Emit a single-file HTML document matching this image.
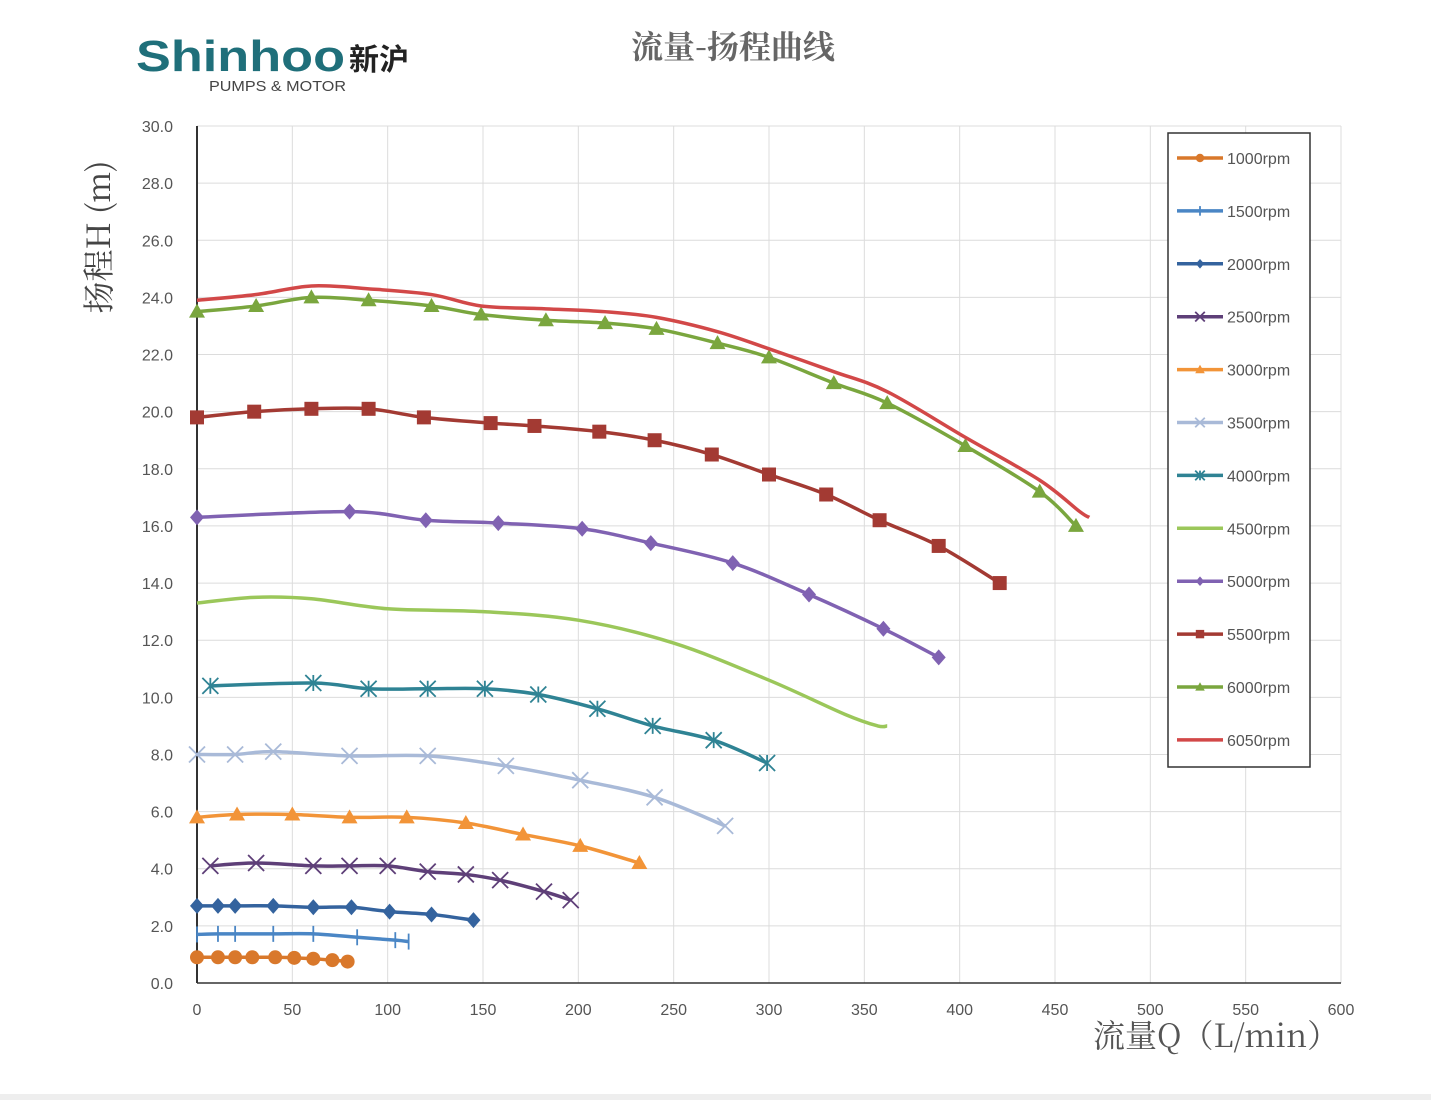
<!DOCTYPE html>
<html><head><meta charset="utf-8"><style>
html,body{margin:0;padding:0;background:#fff;}
svg{display:block;font-family:"Liberation Sans","Noto Sans CJK SC",sans-serif;}
</style></head><body>
<svg id="chart" width="1431" height="1100" viewBox="0 0 1431 1100">
<rect x="0" y="0" width="1431" height="1100" fill="#fff"/>
<rect x="0" y="1094" width="1431" height="6" fill="#eee"/>
<g>
<text x="136" y="71" font-size="44" font-weight="bold" fill="#1f6f7a" textLength="209" lengthAdjust="spacingAndGlyphs" style="font-family:'Liberation Sans',sans-serif">Shinhoo</text>
<text x="349" y="70" font-size="30" font-weight="bold" fill="#222" style="font-family:'Noto Sans CJK SC',sans-serif">新沪</text>
<text x="209" y="91" font-size="15" fill="#444" textLength="137" lengthAdjust="spacingAndGlyphs">PUMPS &amp; MOTOR</text>
</g>
<text x="733" y="58" font-size="32" font-weight="bold" fill="#666" text-anchor="middle" style="font-family:'Noto Serif CJK SC',serif">流量-扬程曲线</text>
<text transform="translate(110,237) rotate(-90)" font-size="32" fill="#444" text-anchor="middle" style="font-family:'Noto Serif CJK SC',serif">扬程H (m)</text>
<text x="1093" y="1047" font-size="32" fill="#555" style="font-family:'Noto Serif CJK SC',serif">流量Q（L/min）</text>
<g id="grid"></g><g id="axes"></g><g id="series"></g><g id="legend"></g>
</svg>
<script>
const NS="http://www.w3.org/2000/svg";
const xTicks=[0,50,100,150,200,250,300,350,400,450,500,550,600];
const yTicks=[0,2,4,6,8,10,12,14,16,18,20,22,24,26,28,30];
const seriesNames=["1000rpm","1500rpm","2000rpm","2500rpm","3000rpm","3500rpm","4000rpm","4500rpm","5000rpm","5500rpm","6000rpm","6050rpm"];
const q1000=[0,11,20,29,41,51,61,71,79];
const h1000=[0.9,0.9,0.9,0.9,0.9,0.88,0.85,0.8,0.75];
const q1500=[0,11,20,40,61,84,104,111];
const h1500=[1.7,1.72,1.72,1.72,1.72,1.6,1.5,1.45];
const q2000=[0,11,20,40,61,81,101,123,145];
const h2000=[2.7,2.7,2.7,2.7,2.65,2.65,2.5,2.4,2.2];
const q2500=[7,31,61,80,100,121,141,159,182,196];
const h2500=[4.1,4.2,4.1,4.1,4.1,3.9,3.8,3.6,3.2,2.9];
const q3000=[0,21,50,80,110,141,171,201,232];
const h3000=[5.8,5.9,5.9,5.8,5.8,5.6,5.2,4.8,4.2];
const q3500=[0,20,40,80,121,162,201,240,277];
const h3500=[8.0,8.0,8.1,7.95,7.95,7.6,7.1,6.5,5.5];
const q4000=[7,61,90,121,151,179,210,239,271,299];
const h4000=[10.4,10.5,10.3,10.3,10.3,10.1,9.6,9.0,8.5,7.7];
const q4500=[0,30,60,100,150,200,250,300,340,357,362];
const h4500=[13.3,13.5,13.45,13.1,13.0,12.7,11.9,10.6,9.4,9.0,9.0];
const q5000=[0,80,120,158,202,238,281,321,360,389];
const h5000=[16.3,16.5,16.2,16.1,15.9,15.4,14.7,13.6,12.4,11.4];
const q5500=[0,30,60,90,119,154,177,211,240,270,300,330,358,389,421];
const h5500=[19.8,20.0,20.1,20.1,19.8,19.6,19.5,19.3,19.0,18.5,17.8,17.1,16.2,15.3,14.0];
const q6000=[0,31,60,90,123,149,183,214,241,273,300,334,362,403,442,461];
const h6000=[23.5,23.7,24.0,23.9,23.7,23.4,23.2,23.1,22.9,22.4,21.9,21.0,20.3,18.8,17.2,16.0];
const q6050=[0,31,60,90,123,149,183,214,241,273,300,334,362,403,442,463,468];
const h6050=[23.9,24.1,24.4,24.3,24.1,23.7,23.6,23.5,23.3,22.8,22.2,21.4,20.7,19.1,17.6,16.5,16.3];

const X0=197,X1=1341,Y0=983,Y1=126;
const xs=v=>X0+(v/600)*(X1-X0);
const ys=v=>Y0-(v/30)*(Y0-Y1);
function mk(t,a,p){const e=document.createElementNS(NS,t);for(const k in a)e.setAttribute(k,a[k]);p.appendChild(e);return e;}
const grid=document.getElementById('grid'),axes=document.getElementById('axes'),sg=document.getElementById('series'),lg=document.getElementById('legend');
xTicks.forEach(v=>{
 const l=mk('line',{x1:xs(v),x2:xs(v),y1:Y1,y2:Y0,stroke:'#dcdcdc','stroke-width':1},grid);
 
 
 const t=mk('text',{x:xs(v),y:1015,'font-size':16,fill:'#555','text-anchor':'middle'},axes);t.textContent=v;
 
 
});
yTicks.forEach(v=>{
 const l=mk('line',{x1:X0,x2:X1,y1:ys(v),y2:ys(v),stroke:'#dcdcdc','stroke-width':1},grid);
 
 
 const t=mk('text',{x:173,y:ys(v)+6,'font-size':16,fill:'#555','text-anchor':'end'},axes);t.textContent=v.toFixed(1);
 
 
});
const ax=mk('line',{x1:X0,x2:X1,y1:Y0,y2:Y0,stroke:'#333','stroke-width':1.5},axes);


const ay=mk('line',{x1:X0,x2:X0,y1:Y1,y2:Y0,stroke:'#333','stroke-width':2},axes);



const colors=['#d9782b','#4a86c5','#34639e','#5e3f78','#f29438','#a9bad8','#2f8394','#9bc75a','#8062b2','#a33a33','#7aa63e','#d24848'];
const markers=['circle','plus','diamond','x','triangle','x','star','none','diamond','square','triangle','none'];
const Q=[q1000,q1500,q2000,q2500,q3000,q3500,q4000,q4500,q5000,q5500,q6000,q6050];
const H=[h1000,h1500,h2000,h2500,h3000,h3500,h4000,h4500,h5000,h5500,h6000,h6050];
function path(pts){let d=`M${pts[0][0]},${pts[0][1]}`;
 for(let i=0;i<pts.length-1;i++){const p0=pts[i-1]||pts[i],p1=pts[i],p2=pts[i+1],p3=pts[i+2]||p2;
  d+=` C${p1[0]+(p2[0]-p0[0])/6},${p1[1]+(p2[1]-p0[1])/6} ${p2[0]-(p3[0]-p1[0])/6},${p2[1]-(p3[1]-p1[1])/6} ${p2[0]},${p2[1]}`;}
 return d;}
function marker(type,x,y,c,s,p){
 if(type==='circle')return mk('circle',{cx:x,cy:y,r:7*s,fill:c},p);
 if(type==='square')return mk('rect',{x:x-7*s,y:y-7*s,width:14*s,height:14*s,fill:c},p);
 if(type==='diamond')return mk('polygon',{points:`${x},${y-8*s} ${x+7*s},${y} ${x},${y+8*s} ${x-7*s},${y}`,fill:c},p);
 if(type==='triangle')return mk('polygon',{points:`${x},${y-8*s} ${x+8*s},${y+6*s} ${x-8*s},${y+6*s}`,fill:c},p);
 const r=8*s;let d='';
 if(type==='plus')d=`M${x},${y-r}V${y+r}`;
 if(type==='x')d=`M${x-r},${y-r}L${x+r},${y+r}M${x-r},${y+r}L${x+r},${y-r}`;
 if(type==='star')d=`M${x-r},${y-r}L${x+r},${y+r}M${x-r},${y+r}L${x+r},${y-r}M${x},${y-r}V${y+r}`;
 if(!d)return null;
 return mk('path',{d,stroke:c,'stroke-width':1.8,fill:'none'},p);
}
Q.forEach((qa,i)=>{
 const g=mk('g',{},sg);
 
 
 const pts=qa.map((q,j)=>[xs(q),ys(H[i][j])]);
 const pl=mk('path',{d:path(pts),stroke:colors[i],'stroke-width':3.5,fill:'none'},g);
 
 
 pts.forEach(p=>{const m=marker(markers[i],p[0],p[1],colors[i],1,g);if(m){
  
  }});
});
const box=mk('rect',{x:1168,y:133,width:142,height:634,fill:'#fff',stroke:'#333','stroke-width':1.5},lg);


seriesNames.forEach((n,i)=>{
 const y=158+i*52.9;
 const g=mk('g',{},lg);
 
 
 mk('line',{x1:1177,x2:1223,y1:y,y2:y,stroke:colors[i],'stroke-width':3.5},g);
 marker(markers[i],1200,y,colors[i],0.6,g);
 const t=mk('text',{x:1227,y:y+6,'font-size':16,fill:'#555'},g);t.textContent=n;
});
</script>
</body></html>
